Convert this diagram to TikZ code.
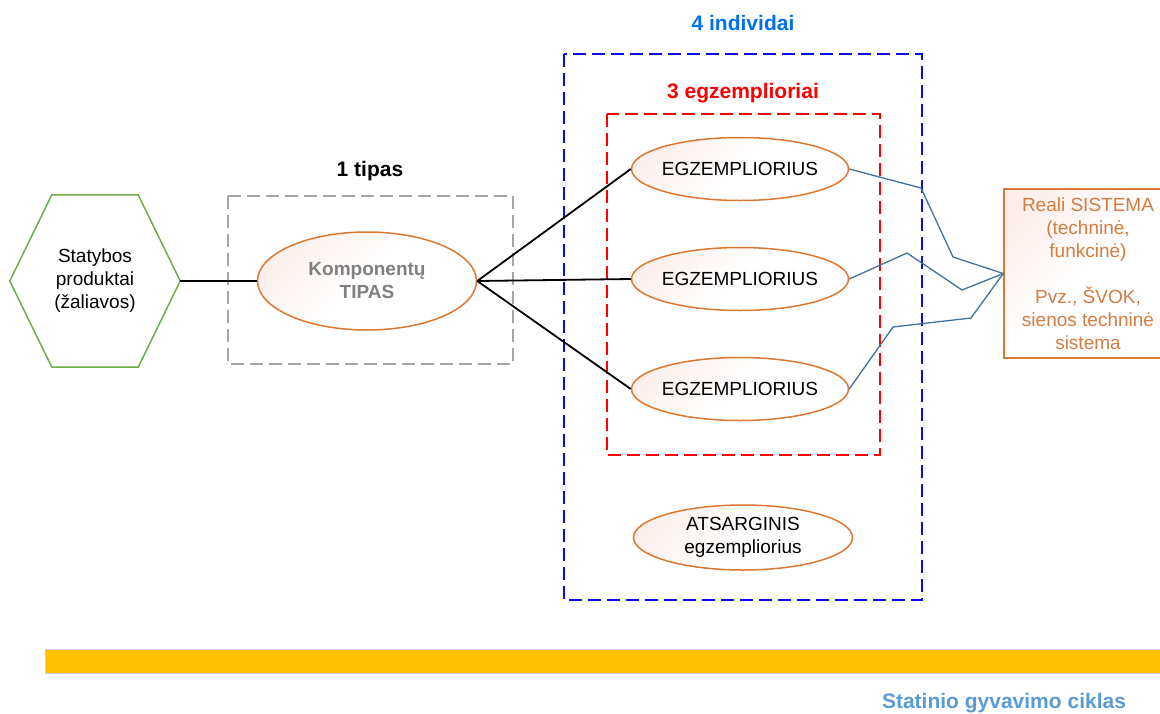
\documentclass[tikz,border=0pt]{standalone}
\usepackage{fontspec}
\setmainfont{Liberation Sans}
\usepackage{tikz}
\usetikzlibrary{shapes.geometric,positioning,calc}
\definecolor{mygreen}{RGB}{112,173,71}
\definecolor{myorange}{RGB}{218,120,52}
\definecolor{mytextorange}{RGB}{212,124,66}
\definecolor{mypink}{RGB}{253,240,236}
\definecolor{mygray}{RGB}{166,166,166}
\definecolor{mydarkgray}{RGB}{128,128,128}
\definecolor{myblue}{RGB}{10,10,240}
\definecolor{mylabelblue}{RGB}{0,112,240}
\definecolor{myred}{RGB}{255,0,0}
\definecolor{mysteel}{RGB}{65,113,156}
\definecolor{myyellow}{RGB}{255,192,0}
\definecolor{mybarline}{RGB}{205,205,220}
\definecolor{mysky}{RGB}{91,155,213}

\begin{document}
\begin{tikzpicture}[
  x=1pt, y=-1pt,
  font=\fontsize{19}{23}\selectfont,
  myshade/.style={
    top color=mypink,
    bottom color=white,
    middle color=white,
    shading angle=45
    },
  myellipse/.style={
    ellipse,
    draw=myorange,
    line width=1.5pt,
    myshade,
    inner xsep=-4pt,
    inner ysep=0pt,
    minimum width=217pt,
    minimum height=63pt,
    align=center
    },
  mydash/.style={
    line width=2pt,
    dash pattern=on 13pt off 6pt
    },
  mylabel/.style={
    font=\fontsize{21}{25}\selectfont\bfseries,
    anchor=base
    },
  myline/.style={
    line width=1.8pt
    },
  mylink/.style={
    draw=mysteel,
    line width=1.3pt
    }
]
\useasboundingbox (0,0) rectangle (1160,713);
\clip (0,0) rectangle (1160,713);

% containers
\draw[mydash, mygray] (228,196) rectangle (513,364);
\draw[mydash, myblue] (564,54) rectangle (922,600);
\draw[mydash, myred] (607,114) rectangle (880,455);

\node[mylabel] (tipaslabel) at (370,176.5) {1 tipas};
\node[mylabel, text=mylabelblue] (individailabel) at (743,30) {4 individai};
\node[mylabel, text=myred] (egzlabel) at (743,98.5) {3 egzemplioriai};

% raw products
\node[minimum width=170pt, minimum height=172pt, align=center] (produktai) at (95,281)
  {Statybos\\produktai\\(žaliavos)};
\draw[mygreen, line width=1.5pt]
  (produktai.west) -- ([xshift=42pt]produktai.north west) -- ([xshift=-42pt]produktai.north east)
  -- (produktai.east) -- ([xshift=-42pt]produktai.south east) -- ([xshift=42pt]produktai.south west)
  -- cycle;

\node[myellipse, minimum width=219pt, minimum height=98pt, text=mydarkgray, font=\fontsize{19}{23}\selectfont\bfseries]
  (tipas) at (367,281) {Komponentų\\TIPAS};
\draw[myline] (produktai.east) -- (tipas.west);

\foreach \Name/\Y in {egzA/169, egzB/279, egzC/389} {
  \node[myellipse] (\Name) at (740,\Y) {EGZEMPLIORIUS};
  \draw[myline] (tipas.east) -- (\Name.west);
}

\node[myellipse, minimum width=219pt, minimum height=65pt] (atsarginis) at (743,537.5)
  {ATSARGINIS\\egzempliorius};

% real system
\node[draw=myorange, line width=1.5pt, myshade, minimum width=168pt, minimum height=169pt,
  align=center, text=mytextorange] (sistema) at (1088,273.5)
  {Reali SISTEMA\\(techninė,\\funkcinė)\\[23pt]Pvz., ŠVOK,\\sienos techninė\\sistema};

\draw[mylink] (egzA.east) -- (921,188) -- (953,257) -- (sistema.west);
\draw[mylink] (egzB.east) -- (907,253) -- (962,290) -- (sistema.west);
\draw[mylink] (egzC.east) -- (893,327) -- (971,318) -- (sistema.west);

% life cycle
\draw[draw=mybarline, fill=myyellow, line width=1pt] (45,649) rectangle (1170,673);
\node[mylabel, text=mysky] (ciklas) at (1004,708) {Statinio gyvavimo ciklas};

\end{tikzpicture}
\end{document}
